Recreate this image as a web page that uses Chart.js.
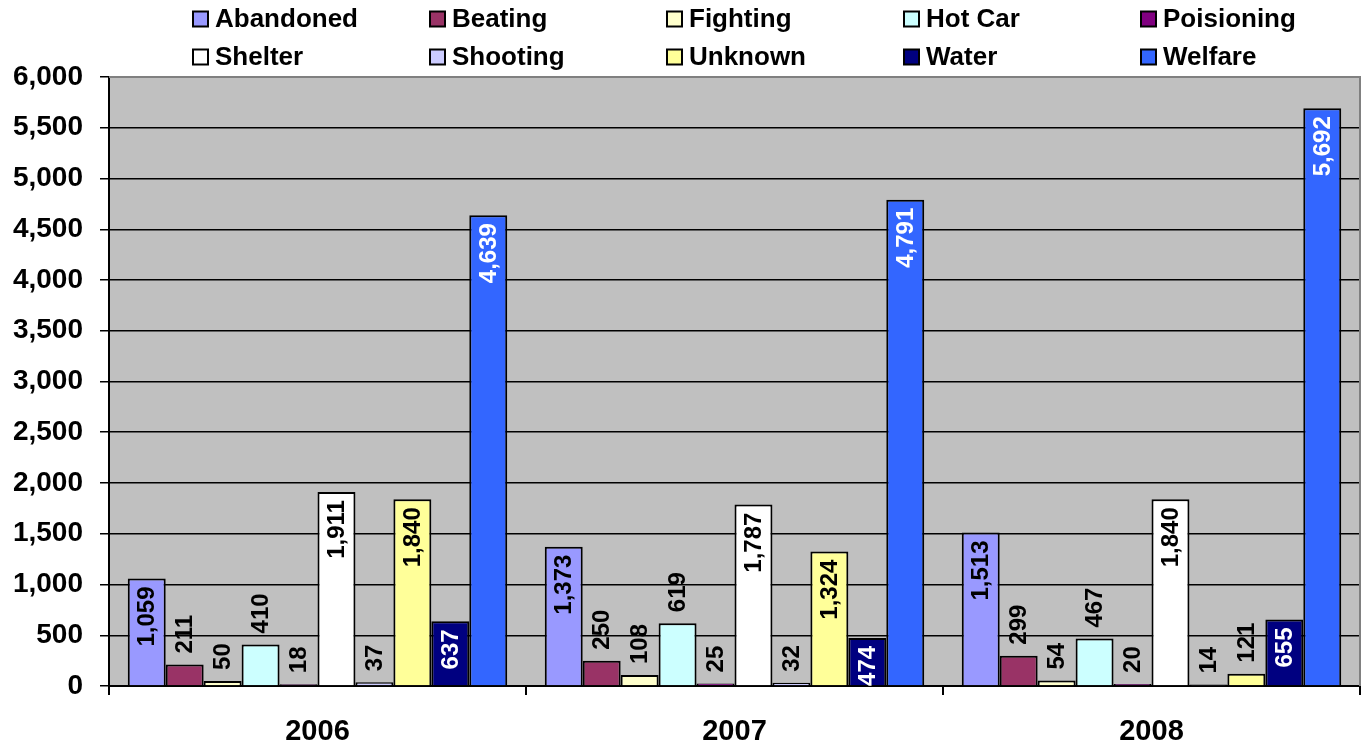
<!DOCTYPE html>
<html>
<head>
<meta charset="utf-8">
<script src="https://cdn.jsdelivr.net/npm/chart.js@4.4.1/dist/chart.umd.min.js"></script>
<style>
  html, body { margin: 0; padding: 0; background: #ffffff; }
  #wrap { width: 1365px; height: 750px; position: relative; }
</style>
</head>
<body>
<div id="wrap"><canvas id="c" width="1365" height="750"></canvas></div>
<script>
const categories = ['2006', '2007', '2008'];
const seriesNames = ['Abandoned', 'Beating', 'Fighting', 'Hot Car', 'Poisioning', 'Shelter', 'Shooting', 'Unknown', 'Water', 'Welfare'];
const abandoned = [1059, 1373, 1513];
const beating = [211, 250, 299];
const fighting = [50, 108, 54];
const hotCar = [410, 619, 467];
const poisoning = [18, 25, 20];
const shelter = [1911, 1787, 1840];
const shooting = [37, 32, 14];
const unknown = [1840, 1324, 121];
const water = [637, 474, 655];
const welfare = [4639, 4791, 5692];
const yTicks = [0, 500, 1000, 1500, 2000, 2500, 3000, 3500, 4000, 4500, 5000, 5500, 6000];

const seriesValues = [abandoned, beating, fighting, hotCar, poisoning, shelter, shooting, unknown, water, welfare];
const seriesColors = ['#9999FF', '#993366', '#FFFFCC', '#CCFFFF', '#800080', '#FFFFFF', '#CCCCFF', '#FFFF99', '#000080', '#3366FF'];
const labelInside = [true, false, false, false, false, true, false, true, true, true];
const labelColors = ['#000', '#000', '#000', '#000', '#000', '#000', '#000', '#000', '#fff', '#fff'];

const FONT = '"Liberation Sans", Arial, sans-serif';
const fmt = v => Number(v).toLocaleString('en-US');

const plotBg = {
  id: 'plotBg',
  beforeDraw(chart) {
    const { ctx, chartArea: a } = chart;
    ctx.save();
    ctx.fillStyle = '#C0C0C0';
    ctx.fillRect(a.left, a.top, a.right - a.left, a.bottom - a.top);
    ctx.restore();
  },
  afterDraw(chart) {
    const { ctx, chartArea: a } = chart;
    ctx.save();
    ctx.strokeStyle = '#808080';
    ctx.lineWidth = 2;
    ctx.beginPath();
    ctx.moveTo(a.left, a.top);
    ctx.lineTo(a.right, a.top);
    ctx.lineTo(a.right, a.bottom);
    ctx.stroke();
    ctx.restore();
  }
};

const barLabels = {
  id: 'barLabels',
  afterDatasetsDraw(chart) {
    const ctx = chart.ctx;
    ctx.save();
    ctx.font = 'bold 24px ' + FONT;
    ctx.textBaseline = 'middle';
    chart.data.datasets.forEach((ds, di) => {
      const meta = chart.getDatasetMeta(di);
      meta.data.forEach((bar, i) => {
        const txt = fmt(ds.data[i]);
        const w = ctx.measureText(txt).width;
        const h = bar.base - bar.y;
        ctx.save();
        if (labelInside[di] && h > w + 6) {
          ctx.translate(bar.x, bar.y + 8);
          ctx.rotate(-Math.PI / 2);
          ctx.textAlign = 'right';
          ctx.fillStyle = labelColors[di];
        } else {
          ctx.translate(bar.x, bar.y - 11);
          ctx.rotate(-Math.PI / 2);
          ctx.textAlign = 'left';
          ctx.fillStyle = '#000';
        }
        ctx.fillText(txt, 0, 1);
        ctx.restore();
      });
    });
    ctx.restore();
  }
};

const gridLegend = {
  id: 'gridLegend',
  afterDraw(chart) {
    const ctx = chart.ctx;
    ctx.save();
    ctx.font = 'bold 26px ' + FONT;
    ctx.textBaseline = 'middle';
    ctx.textAlign = 'left';
    chart.data.datasets.forEach((ds, i) => {
      const col = i % 5, row = Math.floor(i / 5);
      const x = 193 + col * 237;
      const y = 19 + row * 38;
      ctx.fillStyle = ds.backgroundColor;
      ctx.fillRect(x, y - 7.5, 15, 15);
      ctx.strokeStyle = '#000';
      ctx.lineWidth = 2;
      ctx.strokeRect(x, y - 7.5, 15, 15);
      ctx.fillStyle = '#000';
      ctx.fillText(ds.label, x + 22, y + 1);
    });
    ctx.restore();
  }
};

const datasets = seriesNames.map((name, i) => ({
  label: name,
  data: seriesValues[i],
  backgroundColor: seriesColors[i],
  borderColor: '#000000',
  borderWidth: 2,
  borderSkipped: 'bottom',
  categoryPercentage: 0.91,
  barPercentage: 1.0
}));

new Chart(document.getElementById('c'), {
  type: 'bar',
  data: { labels: categories, datasets },
  options: {
    responsive: false,
    animation: false,
    layout: { padding: { top: 77, right: 5, left: 0, bottom: 0 } },
    plugins: { legend: { display: false }, tooltip: { enabled: false } },
    scales: {
      x: {
        grid: { offset: true, drawOnChartArea: false, drawTicks: true, tickLength: 9, color: '#000', lineWidth: 2 },
        border: { display: true, color: '#000', width: 2 },
        ticks: { color: '#000', font: { family: FONT, size: 29, weight: 'bold' }, padding: 20 },
        afterFit(scale) { scale.height = 64; }
      },
      y: {
        min: 0, max: 6000,
        afterBuildTicks(scale) { scale.ticks = yTicks.map(v => ({ value: v })); },
        grid: { color: '#000', lineWidth: 1.5, tickLength: 9, drawTicks: true },
        border: { display: true, color: '#000', width: 2 },
        ticks: { color: '#000', font: { family: FONT, size: 28, weight: 'bold' }, padding: 17, callback: v => fmt(v) },
        afterFit(scale) { scale.width = 109; }
      }
    }
  },
  plugins: [plotBg, barLabels, gridLegend]
});
</script>
</body>
</html>
